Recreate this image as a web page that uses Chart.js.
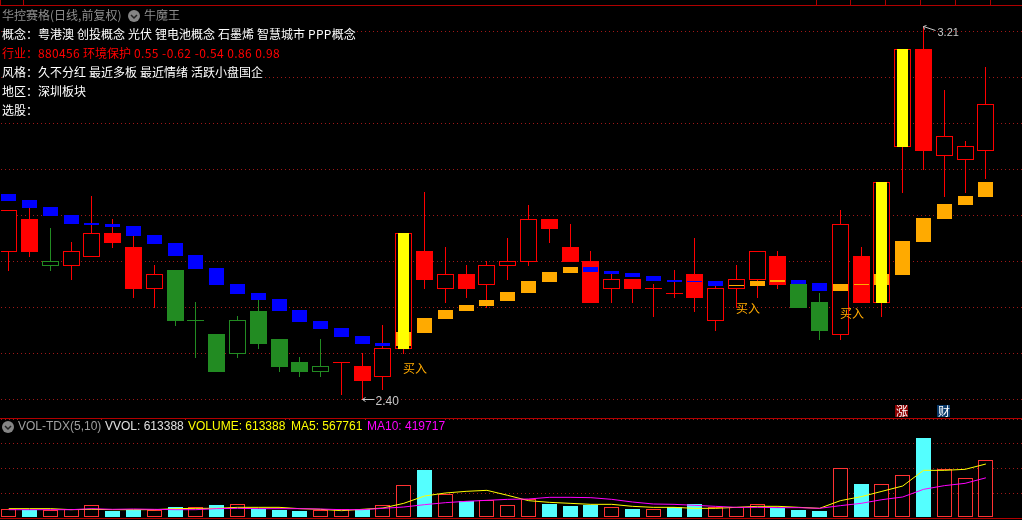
<!DOCTYPE html>
<html>
<head>
<meta charset="utf-8">
<title>华控赛格 日线</title>
<script src="https://cdn.jsdelivr.net/npm/chart.js@4/dist/chart.umd.min.js"></script>
<style>
  html, body { margin: 0; background: #000; overflow: hidden; }
  #page { position: relative; width: 1022px; height: 520px; overflow: hidden; font: 12px "Noto Sans CJK SC", sans-serif; word-spacing: 0.3px; }
  canvas { position: absolute; left: 0; }
  .rule { position: absolute; background: #b00000; }
  .txt { position: absolute; white-space: pre; line-height: 14px; height: 14px; background: #000; }
  .txt b { font-weight: normal; letter-spacing: 0.35px; }
  .vol { font-family: "Liberation Sans", sans-serif; word-spacing: 0; }
  .dot { position: absolute; width: 12px; height: 12px; border-radius: 6px; background: #858585; }
  .dot svg { display: block; }
</style>
</head>
<body>
<div id="page">
  <canvas id="priceChart" width="1022" height="419" style="top:0"></canvas>
  <canvas id="volChart" width="1022" height="102" style="top:418px"></canvas>

  <!-- frame lines -->
  <div class="rule" style="left:0;top:5px;width:1022px;height:1px"></div>
  <div class="rule" style="left:0;top:418px;width:1022px;height:1px"></div>
  <div class="rule" style="left:0;top:518px;width:1022px;height:1px"></div>
  <div class="rule" style="left:0;top:0;width:1px;height:5px"></div>
  <div class="rule" style="left:23px;top:0;width:1px;height:5px"></div>
  <div class="rule" style="left:816px;top:0;width:1px;height:5px"></div>
  <div class="rule" style="left:850px;top:0;width:1px;height:5px"></div>
  <div class="rule" style="left:885px;top:0;width:1px;height:5px"></div>
  <div class="rule" style="left:920px;top:0;width:1px;height:5px"></div>
  <div class="rule" style="left:955px;top:0;width:1px;height:5px"></div>
  <div class="rule" style="left:990px;top:0;width:1px;height:5px"></div>

  <!-- header text -->
  <div class="txt" style="left:2px;top:8px;color:#8e8e8e">华控赛格(日线,前复权)</div>
  <div class="dot" style="left:128px;top:10px"><svg width="12" height="12"><path d="M3 5 L6 8 L9 5" fill="none" stroke="#222" stroke-width="1.5"/></svg></div>
  <div class="txt" style="left:144px;top:8px;color:#8e8e8e">牛魔王</div>
  <div class="txt" style="left:2px;top:27px;color:#fff">概念：粤港澳 创投概念 光伏 锂电池概念 石墨烯 智慧城市 <b>PPP</b>概念</div>
  <div class="txt" style="left:2px;top:46px;color:#f00">行业：<b>880456</b> 环境保护 <b>0.55 -0.62 -0.54 0.86 0.98</b></div>
  <div class="txt" style="left:2px;top:65px;color:#fff">风格：久不分红 最近多板 最近情绪 活跃小盘国企</div>
  <div class="txt" style="left:2px;top:84px;color:#fff">地区：深圳板块</div>
  <div class="txt" style="left:2px;top:103px;color:#fff">选股：</div>

  <!-- volume header -->
  <div class="dot" style="left:2px;top:421px"><svg width="12" height="12"><path d="M3 5 L6 8 L9 5" fill="none" stroke="#222" stroke-width="1.5"/></svg></div>
  <div class="txt vol" style="left:18px;top:419px;color:#a0a0a0">VOL-TDX(5,10)</div>
  <div class="txt vol" style="left:105px;top:419px;color:#e0e0e0">VVOL: 613388</div>
  <div class="txt vol" style="left:188px;top:419px;color:#ff0">VOLUME: 613388</div>
  <div class="txt vol" style="left:291px;top:419px;color:#ff0">MA5: 567761</div>
  <div class="txt vol" style="left:367px;top:419px;color:#f0f">MA10: 419717</div>
</div>

<script>
// Daily candles. Body top/bottom and wick ends.
const bodyTop = [2.81,2.79,2.70,2.72,2.76,2.76,2.73,2.67,2.68,2.57,2.54,2.57,2.59,2.53,2.48,2.47,
  2.48,2.47,2.51,2.76,2.72,2.67,2.67,2.69,2.70,2.79,2.79,2.73,2.70,2.66,2.66,2.64,
  2.63,2.67,2.64,2.66,2.72,2.71,2.65,2.61,2.78,2.71,2.87,3.16,3.16,2.97,2.95,3.04];
const bodyBottom = [2.72,2.72,2.69,2.69,2.71,2.74,2.64,2.64,2.57,2.57,2.46,2.50,2.52,2.47,2.46,2.46,
  2.48,2.44,2.45,2.51,2.66,2.64,2.64,2.65,2.69,2.70,2.77,2.70,2.61,2.64,2.64,2.64,
  2.63,2.62,2.57,2.64,2.66,2.65,2.60,2.55,2.54,2.61,2.61,2.95,2.94,2.93,2.92,2.94];
const high = [2.81,2.82,2.77,2.74,2.84,2.79,2.76,2.69,2.68,2.61,2.54,2.58,2.62,2.53,2.49,2.53,
  2.48,2.50,2.56,2.76,2.85,2.73,2.69,2.70,2.75,2.82,2.79,2.78,2.72,2.67,2.66,2.65,
  2.68,2.75,2.65,2.69,2.72,2.72,2.65,2.63,2.81,2.73,2.87,3.16,3.21,3.07,2.96,3.12];
const low = [2.68,2.71,2.68,2.66,2.71,2.73,2.62,2.60,2.56,2.49,2.46,2.49,2.51,2.46,2.45,2.45,
  2.41,2.40,2.42,2.50,2.64,2.61,2.62,2.60,2.66,2.69,2.74,2.70,2.61,2.61,2.61,2.58,
  2.62,2.59,2.55,2.60,2.62,2.64,2.60,2.53,2.53,2.61,2.58,2.85,2.90,2.84,2.85,2.88];
// R = red outline, F = solid red, g = green outline, G = solid green
const candleType = ["R","F","g","R","R","F","F","R","G","g","G","g","G","G","G","g",
  "R","F","R","R","F","R","F","R","R","R","F","F","F","R","F","R",
  "R","F","R","R","R","F","G","G","R","F","R","R","F","R","R","R"];

// Trend band drawn as short blocks over the candles
const bandTop = [2.845,2.832,2.816,2.799,2.782,2.780,2.775,2.756,2.738,2.712,2.684,2.649,2.630,2.616,2.593,2.569,
  2.553,2.536,2.521,2.545,2.575,2.593,2.603,2.614,2.632,2.656,2.675,2.686,2.686,2.677,2.673,2.667,
  2.658,2.656,2.656,2.647,2.656,2.658,2.658,2.651,2.649,2.649,2.671,2.743,2.793,2.823,2.840,2.871];
const bandBottom = [2.832,2.816,2.799,2.782,2.779,2.775,2.755,2.738,2.712,2.684,2.649,2.629,2.616,2.592,2.568,2.553,
  2.536,2.521,2.516,2.516,2.545,2.575,2.592,2.603,2.614,2.632,2.655,2.675,2.677,2.673,2.666,2.658,
  2.655,2.655,2.647,2.646,2.647,2.655,2.651,2.636,2.636,2.649,2.649,2.671,2.742,2.792,2.823,2.840];
const bandTrend = ["B","B","B","B","B","B","B","B","B","B","B","B","B","B","B","B",
  "B","B","B","O","O","O","O","O","O","O","O","O","B","B","B","B",
  "B","B","B","O","O","O","B","B","O","O","O","O","O","O","O","O"];

// Yellow limit-up columns
const limitIndex = [19, 42, 43];

// Volume panel
const volume = [82100,75000,71400,82100,125000,64300,75000,71400,107000,103600,128600,135700,89300,75000,64300,78600,
  85700,89300,125000,339200,503500,242800,171400,178600,125000,196400,139300,117800,128600,103600,85700,82100,
  103600,139300,107000,103600,135700,100000,75000,64300,521400,353500,350000,446400,846300,510700,414200,613388];
// true = outlined red bar, false = solid cyan bar
const volumeUp = [true,false,true,true,true,false,false,true,false,true,false,true,false,false,false,true,
  true,false,true,true,false,true,false,true,true,true,false,false,false,true,false,true,
  false,false,true,true,true,false,false,false,true,false,true,true,false,true,true,true];
const ma5 = [89300,89300,89300,78600,82100,78600,78600,78600,89300,92800,92800,103600,103600,103600,89300,82100,
  67800,82100,96400,146400,225000,257100,275000,285700,232100,175000,157100,146400,135700,135700,114300,103600,
  103600,92800,92800,103600,114300,114300,103600,92800,175000,217800,275000,332100,500000,500000,510700,567761];
const ma10 = [78600,78600,78600,78600,89300,82100,85700,82100,78600,78600,89300,92800,89300,89300,89300,85700,
  78600,78600,92800,107100,132100,153500,167800,178600,189300,192800,210700,210700,207100,189300,160700,139300,
  135700,125000,114300,103600,103600,100000,100000,92800,121400,146400,185700,214300,296400,335700,360700,419717];

// Text marks: where they hang off the data
const buyIndex = [19, 35, 40];
const buyPrice = [2.466, 2.597, 2.586];
const lowIndex = 17, lowLabel = "2.40", lowPrice = 2.40;
const highIndex = 44, highLabel = "3.21", highPrice = 3.21;
const badgeIndex = [43, 45];
const badgeText = ["涨", "财"];
const badgeColor = ["#8b0000", "#0a3a6a"];

const RED = "#ff0000", GREEN = "#228b22", BLUE = "#0000ff", ORANGE = "#ffaa00", YELLOW = "#ffff00";
const VOL_RED = "#ff3232", CYAN = "#54ffff", MAGENTA = "#ff00ff";
const GRID = "#a01818";

const idx = bodyTop.map((v, i) => i);
const isGreen = t => t === "g" || t === "G";
const isSolid = t => t === "F" || t === "G";

// Same column layout in both panels
const xAxis = () => ({ type: "linear", offset: false, min: -0.37278, max: 48.7374, display: false });

// Snap the bars to whole pixels so edges stay hard like the original.
// Price bars cover the pixel rows of both their ends.
const snapBars = {
  id: "snapBars",
  beforeDatasetsDraw(chart) {
    const inclusive = chart.canvas.id === "priceChart";
    chart.getSortedVisibleDatasetMetas().forEach(meta => {
      if (meta.type !== "bar") return;
      meta.data.forEach(el => {
        el.x = Math.floor(el.x) + 0.5;
        if (inclusive) {
          el.y = Math.floor(el.y);
          el.base = Math.floor(el.base) + 1;
        } else {
          el.y = Math.round(el.y);
          el.base = Math.round(el.base);
        }
        el.height = el.base - el.y;
      });
    });
  }
};

// Buy marks, extreme labels and the two little badges
const priceMarks = {
  id: "priceMarks",
  afterDraw(chart) {
    const c = chart.ctx, sx = chart.scales.x, sy = chart.scales.y;
    c.save();
    c.textBaseline = "middle";
    c.font = '12px "Noto Sans CJK SC"';
    c.fillStyle = ORANGE;
    buyIndex.forEach((n, k) => {
      c.fillText("买入", Math.floor(sx.getPixelForValue(n)), sy.getPixelForValue(buyPrice[k]));
    });

    c.strokeStyle = "#c8c8c8";
    c.fillStyle = "#c8c8c8";
    c.lineWidth = 1;
    let px = Math.floor(sx.getPixelForValue(lowIndex)) + 0.5;
    let py = Math.floor(sy.getPixelForValue(lowPrice)) + 0.5;
    c.beginPath();
    c.moveTo(px + 12, py); c.lineTo(px, py); c.lineTo(px + 3, py - 2);
    c.moveTo(px, py); c.lineTo(px + 3, py + 2);
    c.stroke();
    c.font = '12px "Liberation Sans"';
    c.fillText(lowLabel, px + 13, py + 2);

    px = Math.floor(sx.getPixelForValue(highIndex)) + 0.5;
    py = Math.floor(sy.getPixelForValue(highPrice)) + 0.5;
    c.beginPath();
    c.moveTo(px + 12, py + 4); c.lineTo(px, py); c.lineTo(px + 3, py - 1);
    c.moveTo(px, py); c.lineTo(px + 1, py + 3);
    c.stroke();
    c.font = '11px "Liberation Sans"';
    c.fillText(highLabel, px + 14, py + 6);

    c.font = '12px "Noto Sans CJK SC"';
    c.textAlign = "center";
    badgeIndex.forEach((n, k) => {
      const bx = Math.floor(sx.getPixelForValue(n));
      c.fillStyle = badgeColor[k];
      c.fillRect(bx - 7, 405, 13, 12);
      c.fillStyle = "#fff";
      c.fillText(badgeText[k], bx, 411);
    });
    c.restore();
  }
};

function barSet(top, bottom, width, fill, line) {
  return {
    data: idx.map(i => ({ x: i, y: [bottom[i], top[i]] })),
    barThickness: width,
    backgroundColor: fill,
    borderColor: line,
    borderWidth: line ? 1 : 0,
    borderSkipped: false,
    inflateAmount: 0,
    grouped: false,
    clip: 0
  };
}

// The first dataset is painted last
const limitTop = idx.map(i => limitIndex.includes(i) ? bodyTop[i] : null);
const limitBottom = idx.map(i => limitIndex.includes(i) ? bodyBottom[i] : null);
const limitSet = barSet(limitTop, limitBottom, 11, YELLOW);
limitSet.data = limitSet.data.filter(p => p.y[0] !== null);

new Chart(document.getElementById("priceChart"), {
  type: "bar",
  data: {
    datasets: [
      limitSet,
      barSet(bandTop, bandBottom, 15, bandTrend.map(t => t === "B" ? BLUE : ORANGE)),
      barSet(bodyTop, bodyBottom, 17,
        candleType.map(t => isSolid(t) ? (isGreen(t) ? GREEN : RED) : "#000"),
        candleType.map(t => isGreen(t) ? GREEN : RED)),
      barSet(high, low, 1, candleType.map(t => isGreen(t) ? GREEN : RED))
    ]
  },
  options: {
    responsive: false,
    animation: false,
    layout: { padding: { left: 1, right: 0, top: 5, bottom: 1 } },
    plugins: { legend: { display: false }, tooltip: { enabled: false } },
    scales: {
      x: xAxis(),
      y: {
        min: 2.3588,
        max: 3.25663,
        ticks: { display: false, stepSize: 0.1, includeBounds: false },
        grid: { color: GRID, lineWidth: 1, drawTicks: false },
        border: { display: false, dash: [1, 3] }
      }
    }
  },
  plugins: [snapBars, priceMarks]
});

new Chart(document.getElementById("volChart"), {
  type: "bar",
  data: {
    datasets: [
      { type: "line", data: idx.map(i => ({ x: i, y: ma10[i] })), borderColor: MAGENTA, borderWidth: 1, pointRadius: 0, tension: 0 },
      { type: "line", data: idx.map(i => ({ x: i, y: ma5[i] })), borderColor: YELLOW, borderWidth: 1, pointRadius: 0, tension: 0 },
      {
        data: idx.map(i => ({ x: i, y: volume[i] })),
        barThickness: 15,
        backgroundColor: volumeUp.map(u => u ? "#000" : CYAN),
        borderColor: volumeUp.map(u => u ? VOL_RED : CYAN),
        borderWidth: 1,
        borderSkipped: false,
        inflateAmount: 0,
        grouped: false
      }
    ]
  },
  options: {
    responsive: false,
    animation: false,
    layout: { padding: { left: 1, right: 0, top: 1, bottom: 2 } },
    plugins: { legend: { display: false }, tooltip: { enabled: false } },
    scales: {
      x: xAxis(),
      y: {
        min: -10714,
        max: 1050000,
        ticks: { display: false, stepSize: 300000, includeBounds: false },
        grid: { color: ctx => ctx.tick.value > 0 ? GRID : "transparent", lineWidth: 1, drawTicks: false },
        border: { display: false, dash: [1, 3] }
      }
    }
  },
  plugins: [snapBars]
});
</script>
</body>
</html>
